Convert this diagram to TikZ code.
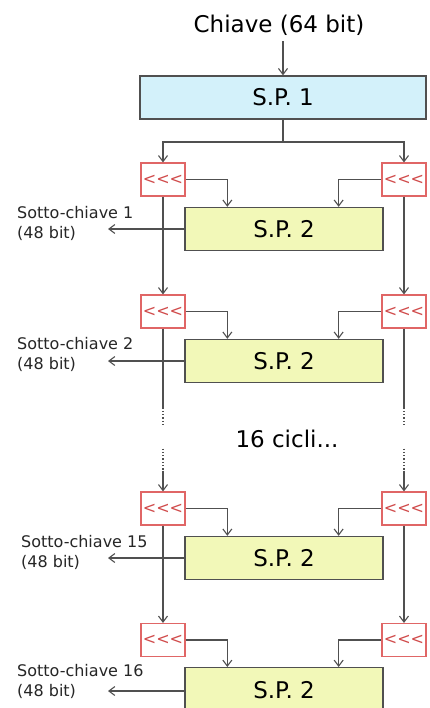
\documentclass[tikz,border=0pt]{standalone}
\usepackage{fontspec}
\setmainfont{DejaVu Sans}
\usetikzlibrary{arrows.meta,calc}
\definecolor{lin}{HTML}{505050}
\definecolor{spone}{HTML}{D3F1FA}
\definecolor{sptwo}{HTML}{F2F8B8}
\definecolor{rotred}{HTML}{E06666}
\definecolor{rottxt}{HTML}{D04A4A}
\tikzset{
  conn/.style={draw=lin, line width=1.3pt},
  arr/.style={conn, -{Straight Barb[length=6pt,width=9pt,line width=1.1pt]}},
  spbox/.style={draw=lin, line width=1.3pt, minimum height=43pt, inner sep=0pt, font=\fontsize{23}{27}\selectfont},
  rotbox/.style={draw=rotred, fill=white, line width=1.1pt, minimum width=44pt, minimum height=33pt, inner sep=0pt, text=rottxt, font=\fontsize{16}{18}\selectfont},
  keylab/.style={anchor=north west, align=left, inner sep=0pt, font=\fontsize{16}{20}\selectfont, text=black!85},
}
\newcommand{\rotsym}{{<}{<}{<}}
\begin{document}
\begin{tikzpicture}[x=1pt,y=-1pt]
\useasboundingbox (0,0) rectangle (430,708);
\clip (0,0) rectangle (430,708);
% title and S.P. 1
\node[font=\fontsize{23}{27}\selectfont, inner sep=0pt] (title) at (279,25) {Chiave (64 bit)};
\node[spbox, fill=spone, minimum width=286pt] (sp1) at (283,97.5) {S.P. 1};
\coordinate (split) at (283,142);
% rotation boxes
\foreach \n/\y in {1/179.5, 2/311.5, 3/508.5, 4/640} {
  \node[rotbox] (L\n) at (163,\y) {\rotsym};
  \node[rotbox] (R\n) at (404,\y) {\rotsym};
}
% S.P. 2 boxes
\foreach \n/\y in {1/229, 2/361, 3/558} {
  \node[spbox, fill=sptwo, minimum width=198pt] (s\n) at (284,\y) {S.P. 2};
}
\node[spbox, fill=sptwo, minimum width=198pt, minimum height=60pt, anchor=north] (s4) at (284,667) {};
\node[font=\fontsize{23}{27}\selectfont] (s4t) at (284,690) {S.P. 2};
% subkey labels
\node[keylab] (k1) at (17,206) {Sotto-chiave 1\\(48 bit)};
\node[keylab] (k2) at (17,337) {Sotto-chiave 2\\(48 bit)};
\node[keylab] (k3) at (21,535) {Sotto-chiave 15\\(48 bit)};
\node[keylab] (k4) at (17,664) {Sotto-chiave 16\\(48 bit)};
\node[font=\fontsize{23}{27}\selectfont, inner sep=0pt] (cyc) at (287,439) {16 cicli...};
% free ends of subkey arrows
\coordinate (t1) at (108,229);
\coordinate (t2) at (108,361);
\coordinate (t3) at (108,558);
\coordinate (t4) at (108,691);
% connectors
\draw[arr] ([yshift=-6pt]title.south -| sp1.north) -- (sp1.north);
\draw[conn] (sp1.south) -- (split);
\draw[arr] (split) -| (L1.north);
\draw[arr] (split) -| (R1.north);
\foreach \n in {1,2,3,4} {
  \draw[arr] (L\n.east) -| ([xshift=43pt]s\n.north west);
  \draw[arr] (R\n.west) -| ([xshift=-45pt]s\n.north east);
  \draw[arr] (s\n.west |- t\n) -- (t\n);
}
\draw[arr] (L1.south) -- (L2.north);
\draw[arr] (R1.south) -- (R2.north);
\draw[arr] (L3.south) -- (L4.north);
\draw[arr] (R3.south) -- (R4.north);
% dotted continuation
\foreach \s in {L,R} {
  \coordinate (\s a) at ($(\s2.south)+(0,79)$);
  \coordinate (\s b) at ($(\s2.south)+(0,98)$);
  \coordinate (\s c) at ($(\s2.south)+(0,120)$);
  \coordinate (\s d) at ($(\s2.south)+(0,142)$);
  \draw[conn] (\s2.south) -- (\s a);
  \draw[conn, dotted] (\s a) -- (\s b);
  \draw[conn, dotted] (\s c) -- (\s d);
  \draw[arr] (\s d) -- (\s3.north);
}
\end{tikzpicture}
\end{document}
